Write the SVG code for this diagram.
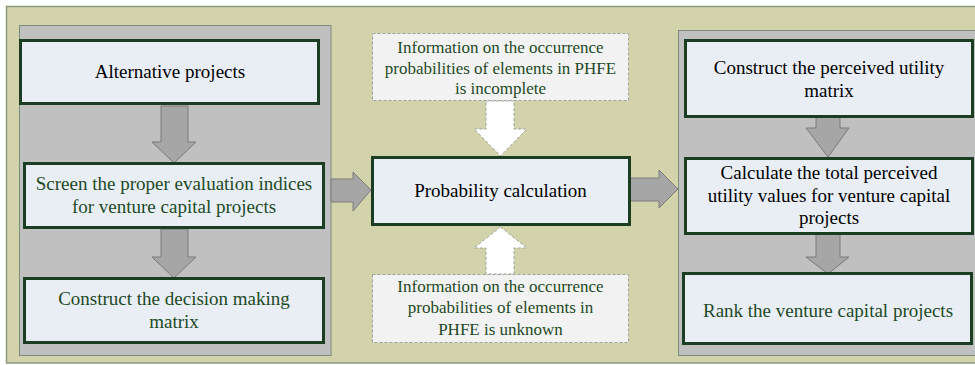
<svg xmlns="http://www.w3.org/2000/svg" width="975" height="365" viewBox="0 0 975 365">
<style>
.bg{fill:#d3d3ab;stroke:#8a9a80;stroke-width:1.5}
.panel{fill:#c0c0c0;stroke:#7c8c7c;stroke-width:1}
.node{fill:#e9eef5;stroke:#1b3d22;stroke-width:3}
.info{fill:#f2f2f2;stroke:#9aa49a;stroke-width:1;stroke-dasharray:3 2}
.arr{fill:#a6a6a6;stroke:#7a7a7a;stroke-width:1}
.warr{fill:#ffffff;stroke:#9aa49a;stroke-width:1;stroke-dasharray:3 2}
text{font-family:"Liberation Serif","Times New Roman",serif;text-anchor:middle}
.t{font-size:19px}
.s{font-size:17px;fill:#1e4a26}
.k{fill:#000000}
.g{fill:#1e4a26}
</style>
<rect class="bg" x="6.5" y="6.5" width="975" height="356.5"/>
<rect id="left-panel" class="panel" x="19.5" y="25.5" width="311.5" height="330"/>
<rect id="right-panel" class="panel" x="678.5" y="30.5" width="300" height="325"/>
<g id="connectors">
<polygon class="arr" points="161,106 188,106 188,142 196,142 174,163 152,142 161,142"/>
<polygon class="arr" points="161,229 188,229 188,257 196,257 174,278 152,257 161,257"/>
<polygon class="arr" points="816,117 840,117 840,128 849,128 828,157 806,128 816,128"/>
<polygon class="arr" points="816,234 840,234 840,257 849,257 828,274 806,257 816,257"/>
<polygon class="arr" points="331,179 353,179 353,172 371,190 353,211 353,202 331,202"/>
<polygon class="arr" points="630,178 659,178 659,170 678,189 659,208 659,201 630,201"/>
<polygon class="warr" points="486,101 514,101 514,129 527,129 500.5,156 474,129 486,129"/>
<polygon class="warr" points="500.5,227 527,248 514,248 514,274 486,274 486,248 474,248"/>
</g>
<g id="n-alt">
<rect class="node" x="20.5" y="40.5" width="298" height="63"/>
<text class="t k" x="170" y="78">Alternative projects</text>
</g>
<g id="n-screen">
<rect class="node" x="24.5" y="163.5" width="299" height="64"/>
<text class="t g" x="174" y="190">Screen the proper evaluation indices</text>
<text class="t g" x="174" y="213">for venture capital projects</text>
</g>
<g id="n-decision">
<rect class="node" x="24.5" y="278.5" width="299" height="64"/>
<text class="t g" x="174" y="305">Construct the decision making</text>
<text class="t g" x="174" y="328">matrix</text>
</g>
<g id="n-info-top">
<rect class="info" x="372.5" y="33.5" width="256" height="67"/>
<text class="s" x="500.5" y="53">Information on the occurrence</text>
<text class="s" x="500.5" y="74">probabilities of elements in PHFE</text>
<text class="s" x="500.5" y="94">is incomplete</text>
</g>
<g id="n-prob">
<rect class="node" x="372.5" y="157.5" width="257" height="67"/>
<text class="t k" x="500.5" y="197">Probability calculation</text>
</g>
<g id="n-info-bottom">
<rect class="info" x="372.5" y="274.5" width="256" height="68"/>
<text class="s" x="500.5" y="292">Information on the occurrence</text>
<text class="s" x="500.5" y="313">probabilities of elements in</text>
<text class="s" x="500.5" y="335">PHFE is unknown</text>
</g>
<g id="n-utility">
<rect class="node" x="685.5" y="40.5" width="287" height="76"/>
<text class="t k" x="829" y="74">Construct the perceived utility</text>
<text class="t k" x="829" y="97">matrix</text>
</g>
<g id="n-total">
<rect class="node" x="685.5" y="158.5" width="287" height="75"/>
<text class="t k" x="829" y="179">Calculate the total perceived</text>
<text class="t k" x="829" y="202">utility values for venture capital</text>
<text class="t k" x="829" y="224">projects</text>
</g>
<g id="n-rank">
<rect class="node" x="683.5" y="273.5" width="288" height="70"/>
<text class="t g" x="828" y="317">Rank the venture capital projects</text>
</g>
</svg>
